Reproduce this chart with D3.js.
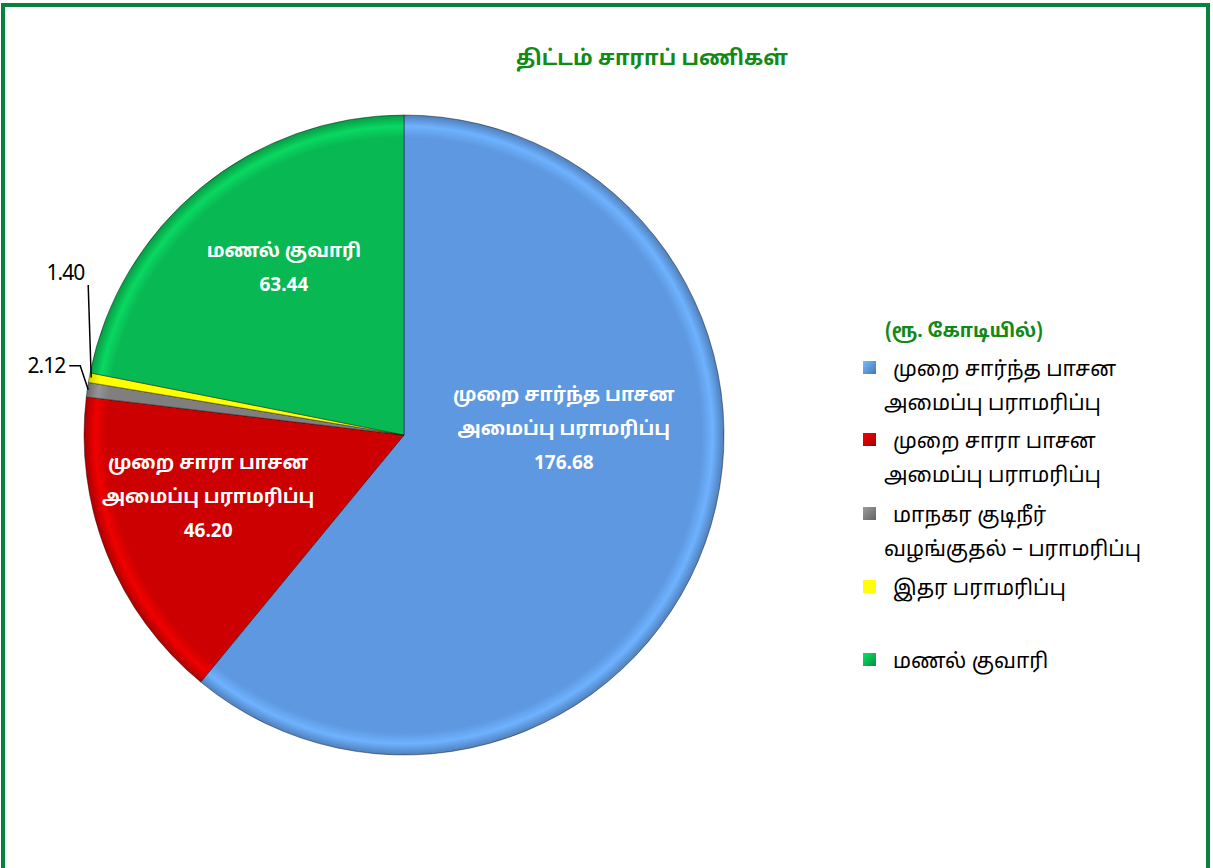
<!DOCTYPE html>
<html>
<head>
<meta charset="utf-8">
<script src="https://cdn.jsdelivr.net/npm/d3@7"></script>
<style>
  body { margin: 0; background: #fff; }
  text { font-family: "Noto Sans Tamil", "Lohit Tamil", "Noto Sans", sans-serif; }
</style>
</head>
<body>
<div id="chart"></div>
<script>
let width = 1213,
    height = 868;

const categories = ["முறை சார்ந்த பாசன அமைப்பு பராமரிப்பு", "முறை சாரா பாசன அமைப்பு பராமரிப்பு",
                    "மாநகர குடிநீர் வழங்குதல் – பராமரிப்பு", "இதர பராமரிப்பு", "மணல் குவாரி"];
const values = [176.68, 46.20, 2.12, 1.40, 63.44];
const valueLabels = ["176.68", "46.20", "2.12", "1.40", "63.44"];
const colors = ["#5e98e0", "#cc0000", "#7f7f7f", "#ffff00", "#08b853"];
const legendLines = [["முறை சார்ந்த பாசன", "அமைப்பு பராமரிப்பு"], ["முறை சாரா பாசன", "அமைப்பு பராமரிப்பு"],
                     ["மாநகர குடிநீர்", "வழங்குதல் – பராமரிப்பு"], ["இதர பராமரிப்பு"], ["மணல் குவாரி"]];
const sliceLabelLines = [["முறை சார்ந்த பாசன", "அமைப்பு பராமரிப்பு"], ["முறை சாரா பாசன", "அமைப்பு பராமரிப்பு"],
                         [], [], ["மணல் குவாரி"]];

// label anchor: [radius fraction, angle in degrees clockwise from top] (layout only)
const labelPos = [[0.50, 87], [0.64, 253], null, null, [0.648, 324.6]];

const svg = d3.select("#chart")
  .append("svg")
  .attr("width", width)
  .attr("height", height);

// green frame
svg.append("rect")
  .attr("x", 3).attr("y", 5)
  .attr("width", 1205).attr("height", 880)
  .attr("fill", "none")
  .attr("stroke", "#07813c")
  .attr("stroke-width", 4);

svg.append("text")
  .attr("x", 652).attr("y", 65)
  .attr("text-anchor", "middle")
  .attr("fill", "#118a17")
  .attr("font-size", 21)
  .attr("font-weight", "bold")
  .text("திட்டம் சாராப் பணிகள்");

const cx = 404, cy = 435, r = 320;
const defs = svg.append("defs");
colors.forEach((c, i) => {
  let g = defs.append("radialGradient")
    .attr("id", "grad" + i)
    .attr("gradientUnits", "userSpaceOnUse")
    .attr("cx", 0).attr("cy", 0).attr("r", r);
  g.append("stop").attr("offset", "0%").attr("stop-color", c);
  g.append("stop").attr("offset", "93%").attr("stop-color", c);
  g.append("stop").attr("offset", "96.5%").attr("stop-color", d3.color(c).brighter(0.45));
  g.append("stop").attr("offset", "100%").attr("stop-color", d3.color(c).darker(0.5));

  let lg = defs.append("linearGradient")
    .attr("id", "lgrad" + i)
    .attr("x1", 0).attr("y1", 0).attr("x2", 1).attr("y2", 1);
  lg.append("stop").attr("offset", "0%").attr("stop-color", d3.color(c).brighter(0.6));
  lg.append("stop").attr("offset", "100%").attr("stop-color", d3.color(c).darker(0.7));
});

const pie = d3.pie().sort(null).value(d => d);
const arcs = pie(values);
const arc = d3.arc().innerRadius(0).outerRadius(r);

const g = svg.append("g").attr("transform", `translate(${cx},${cy})`);

g.selectAll("path")
  .data(arcs)
  .join("path")
  .attr("d", arc)
  .attr("fill", (d, i) => `url(#grad${i})`)
  .attr("stroke", "rgba(0,0,0,0.4)")
  .attr("stroke-width", 1);

// slice labels inside
arcs.forEach((d, i) => {
  if (!labelPos[i]) return;
  let a = labelPos[i][1] * Math.PI / 180, rr = labelPos[i][0] * r;
  let x = Math.sin(a) * rr, y = -Math.cos(a) * rr;
  let lines = sliceLabelLines[i].concat([valueLabels[i]]);
  let t = g.append("text")
    .attr("text-anchor", "middle")
    .attr("fill", "#fff")
    .attr("font-size", 19)
    .attr("font-weight", "bold");
  lines.forEach((l, k) => {
    t.append("tspan")
      .attr("x", x)
      .attr("y", y + (k - (lines.length - 1) / 2) * 34 + 8)
      .text(l);
  });
});

// small outside labels with leader lines
const edge = d3.arc().innerRadius(r).outerRadius(r);
const grayEdge = edge.centroid(arcs[2]);
const yellowEdge = edge.centroid(arcs[3]);

g.append("path")
  .attr("d", d3.line()([[yellowEdge[0] + 2, yellowEdge[1]], [yellowEdge[0] - 1, -150]]))
  .attr("stroke", "#000").attr("stroke-width", 1.5).attr("fill", "none");
g.append("text")
  .attr("x", yellowEdge[0] - 5).attr("y", -155)
  .attr("text-anchor", "end")
  .attr("font-size", 21)
  .attr("letter-spacing", -1)
  .attr("font-family", "Arial, 'Liberation Sans', sans-serif")
  .text(valueLabels[3]);

g.append("path")
  .attr("d", d3.line()([[grayEdge[0] + 1, grayEdge[1]], [grayEdge[0] - 7, grayEdge[1] - 24], [grayEdge[0] - 18, grayEdge[1] - 24]]))
  .attr("stroke", "#000").attr("stroke-width", 1.5).attr("fill", "none");
g.append("text")
  .attr("x", grayEdge[0] - 22).attr("y", grayEdge[1] - 17)
  .attr("text-anchor", "end")
  .attr("font-size", 21)
  .attr("letter-spacing", -1)
  .attr("font-family", "Arial, 'Liberation Sans', sans-serif")
  .text(valueLabels[2]);

// legend
const legend = svg.append("g");
legend.append("text")
  .attr("x", 885).attr("y", 337)
  .attr("fill", "#118a17")
  .attr("font-size", 19)
  .attr("font-weight", "bold")
  .text("(ரூ. கோடியில்)");

const legendY = [368, 440, 514, 587, 660];
categories.forEach((c, i) => {
  let y = legendY[i];
  legend.append("rect")
    .attr("x", 863).attr("y", y - 7)
    .attr("width", 13).attr("height", 13)
    .attr("fill", i === 3 ? colors[i] : `url(#lgrad${i})`);
  let t = legend.append("text")
    .attr("font-size", 21)
    .attr("fill", "#000");
  legendLines[i].forEach((l, k) => {
    t.append("tspan")
      .attr("x", k === 0 ? 893 : 884)
      .attr("y", y + 8 + k * 34)
      .text(l);
  });
});
</script>
</body>
</html>
